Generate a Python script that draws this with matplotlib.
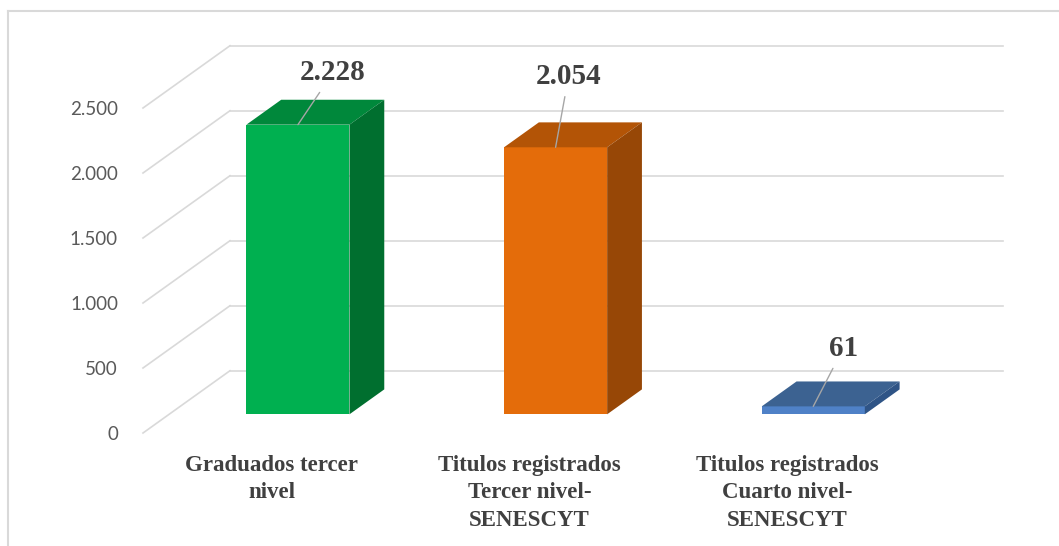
import matplotlib.pyplot as plt
from matplotlib.lines import Line2D

# Datos
categorias = ['Graduados tercer\nnivel',
              'Titulos registrados\nTercer nivel-\nSENESCYT',
              'Titulos registrados\nCuarto nivel-\nSENESCYT']
valores = [2228, 2054, 61]
ticks_y = [0, 500, 1000, 1500, 2000, 2500]

# Colores (frente, tapa, lateral)
col_frente = ['#00B050', '#E46C0A', '#4F81C7']
col_tapa = ['#00883B', '#B35406', '#3C6291']
col_lado = ['#006F2F', '#974706', '#2F5486']

# Desplazamiento de etiquetas (pixeles) respecto al borde superior de la barra
offs_etq = [(35, 52), (13, 71), (30, 58)]

W, H, DPI = 1059, 546, 100
fig = plt.figure(figsize=(W / DPI, H / DPI), dpi=DPI)
fig.patch.set_facecolor('white')

# plano frontal del eje en pixeles: x 143..916, y 433 (0) .. 108 (2500)
ax = fig.add_axes([143 / W, (H - 433) / H, 773 / W, 325 / H])
ax.set_xlim(0, 3)
ax.set_ylim(0, 2500)
ax.patch.set_alpha(0)
for s in ax.spines.values():
    s.set_visible(False)

# profundidad 3D en unidades de datos
ddx = 87 / (773 / 3)
ddy = 62.3 / (325 / 2500)

grid_col = '#D9D9D9'
for v in ticks_y:
    ax.plot([0, ddx], [v, v + ddy], color=grid_col, lw=1.2, clip_on=False, zorder=1)
    ax.plot([ddx, 3 + ddx], [v + ddy, v + ddy], color=grid_col, lw=1.2, clip_on=False, zorder=1)

ax.set_xticks([])
ax.set_yticks(ticks_y)
ax.set_yticklabels([f'{v:,}'.replace(',', '.') for v in ticks_y],
                   fontfamily='Lato', fontsize=13.5, color='#595959')
ax.tick_params(axis='y', length=0, pad=18)

# barras 3D
ancho = 0.4
z0, z1 = 0.3, 0.7
bdx, bdy = (z1 - z0) * ddx, (z1 - z0) * ddy
for i, v in enumerate(valores):
    x0 = i + 0.3 + z0 * ddx
    y0 = z0 * ddy
    x1, y1 = x0 + ancho, y0 + v
    ax.fill([x0, x1, x1, x0], [y0, y0, y1, y1], color=col_frente[i],
            lw=0, clip_on=False, zorder=3)
    ax.fill([x0, x1, x1 + bdx, x0 + bdx], [y1, y1, y1 + bdy, y1 + bdy],
            color=col_tapa[i], lw=0, clip_on=False, zorder=3)
    ax.fill([x1, x1 + bdx, x1 + bdx, x1], [y0, y0 + bdy, y1 + bdy, y1],
            color=col_lado[i], lw=0, clip_on=False, zorder=3)

    etq = f'{v:,}'.replace(',', '.')
    ax.annotate(etq, xy=(x0 + ancho / 2, y1), xytext=offs_etq[i],
                textcoords='offset pixels', ha='center', va='center',
                fontfamily='Liberation Serif', fontweight='bold', fontsize=21,
                color='#404040', zorder=5, annotation_clip=False,
                arrowprops=dict(arrowstyle='-', color='#A6A6A6', lw=1,
                                shrinkA=3, shrinkB=0))

# etiquetas de categorias
for i, c in enumerate(categorias):
    ax.annotate(c, xy=(i + 0.5, 0), xytext=(0, -22), textcoords='offset pixels',
                ha='center', va='top', multialignment='center',
                fontfamily='Liberation Serif', fontweight='bold', fontsize=16.5,
                color='#404040', linespacing=1.4, annotation_clip=False)

# marco del grafico
fig.add_artist(Line2D([8 / W, 8 / W], [0, 1 - 11 / H], color='#D9D9D9', lw=1.5))
fig.add_artist(Line2D([8 / W, 1], [1 - 11 / H, 1 - 11 / H], color='#D9D9D9', lw=1.5))

fig.savefig('out.png', dpi=DPI)
